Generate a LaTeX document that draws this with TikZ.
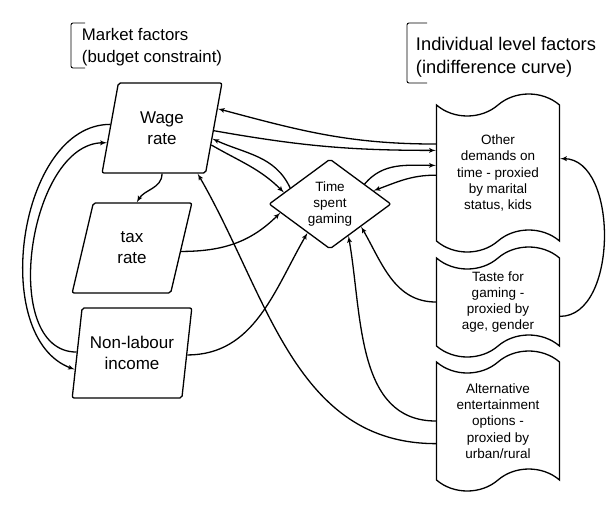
\documentclass[tikz,border=0pt]{standalone}
\usepackage{fontspec}
\setmainfont{Liberation Sans}
\usetikzlibrary{shapes, arrows}
\tikzstyle{factor} = [trapezium, draw, trapezium left angle=76, trapezium right angle=104, trapezium stretches=true, minimum width=120pt, minimum height=90pt, rounded corners=2pt, inner sep=0pt, align=center, font=\fontsize{17}{21}\selectfont]
\tikzstyle{outcome} = [diamond, draw, minimum width=122pt, minimum height=90pt, inner sep=0pt, rounded corners=2pt, align=center, font=\fontsize{13.5}{16}\selectfont]
\tikzstyle{proxy} = [tape, draw, tape bend height=22pt, minimum width=123pt, inner sep=0pt, align=center, font=\fontsize{13.5}{16.3}\selectfont]
\tikzstyle{line} = [draw, -latex']

\begin{document}
\begin{tikzpicture}[x=1pt, y=-1pt, line width=1.3pt]
    \useasboundingbox (0,0) rectangle (612,514);
    \node[factor](wage) at (162,128) {Wage\\rate};
    \node[factor](tax) at (132,248) {tax\\rate};
    \node[factor](nonlab) at (132,353) {Non-labour\\income};
    \node[outcome](time) at (330,204) {Time\\spent\\gaming};
    \node[proxy, minimum height=158pt](other) at (498,173) {Other\\demands on\\time - proxied\\by marital\\status, kids};
    \node[proxy, minimum height=110pt](taste) at (498,302) {Taste for\\gaming -\\proxied by\\age, gender};
    \node[proxy, minimum height=140pt](alt) at (498,421) {Alternative\\entertainment\\options -\\proxied by\\urban/rural};

    % headings
    \node[anchor=west, align=left, font=\fontsize{16.8}{22}\selectfont](market) at (78,47) {Market factors\\(budget constraint)};
    \node[anchor=west, align=left, font=\fontsize{18.3}{23}\selectfont](indiv) at (412,57) {Individual level factors\\(indifference curve)};
    \draw[line width=0.9pt, rounded corners=2pt] (85,23) -- (71,23) -- (71,68) -- (85,68);
    \draw[line width=0.9pt, rounded corners=2pt] (427,23) -- (407,23) -- (407,83) -- (427,83);

    % market side
    \path[line] (wage.-90) to[out=-90, in=60] (tax.84);
    \path[line] (nonlab.179) to[out=180, in=180, looseness=0.95] (wage.195);
    \path[line] (wage.176) to[out=180, in=160, looseness=0.95] (nonlab.196);
    \path[line] (wage.-3) to[out=-10, in=180] (other.160);
    \path[line] (other.155) to[out=180, in=-15] (wage.19);
    \path[line] (wage.-19) to[out=-30, in=135] (time.166);
    \path[line] (time.158) to[out=115, in=-25] (wage.-12);
    \path[line] (tax.-4) to[out=0, in=225] (time.190);
    \path[line] (nonlab.-2) to[out=0, in=240] (time.232);

    % individual side
    \path[line] (time.30) to[out=50, in=180] (other.173);
    \path[line] (other.182) to[out=180, in=20] (time.17);
    \path[line] (taste.180) to[out=180, in=-60] (time.-36);
    \path[line] (alt.180) to[out=180, in=-80] (time.-60);
    \path[line] (alt.200) to[out=180, in=-60] (wage.-52);
    \path[line] (taste.-13) to[out=0, in=0, looseness=0.95] (other.13);
\end{tikzpicture}
\end{document}
